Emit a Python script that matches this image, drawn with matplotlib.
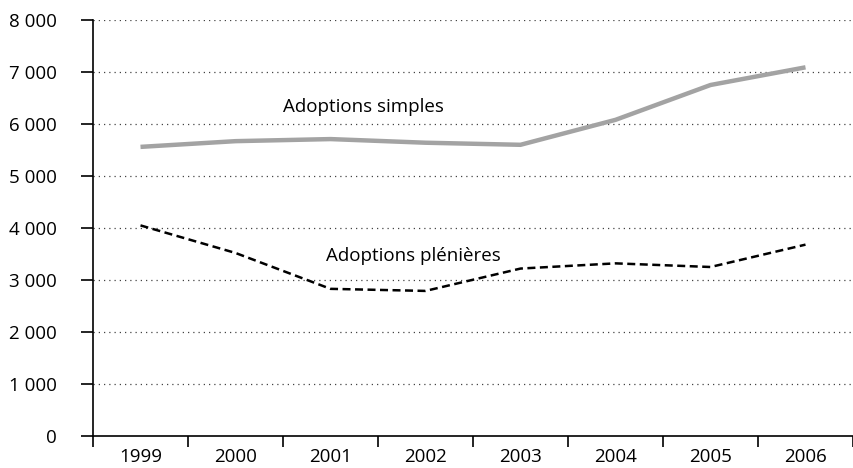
import numpy as np
import matplotlib.pyplot as plt

plt.rcParams['font.family'] = ['Open Sans', 'DejaVu Sans']

# données
annees = ['1999', '2000', '2001', '2002', '2003', '2004', '2005', '2006']
simples = [5560, 5670, 5710, 5640, 5600, 6080, 6750, 7090]
plenieres = [4050, 3520, 2830, 2790, 3220, 3320, 3250, 3680]
yticks = [0, 1000, 2000, 3000, 4000, 5000, 6000, 7000, 8000]

fig = plt.figure(figsize=(8.54, 4.68), dpi=100)
ax = fig.add_axes([93 / 854, 32 / 468, 760 / 854, 416 / 468])

x = np.arange(len(annees))
ax.plot(x, simples, color='#a3a3a3', lw=3.2, solid_capstyle='butt', zorder=3)
ax.plot(x, plenieres, color='black', lw=1.8, dashes=(3.2, 1.8), zorder=3)

ax.text(2.35, 6330, 'Adoptions simples', fontsize=13.5, ha='center', va='center')
ax.text(2.87, 3470, 'Adoptions plénières', fontsize=13.5, ha='center', va='center')

ax.set_xlim(-0.5, len(annees) - 0.5)
ax.set_ylim(0, 8000)

# grille en pointillés
for v in yticks[1:]:
    ax.axhline(v, color='#444444', lw=0.9, ls=(0, (1, 3.2)), zorder=1)

ax.set_yticks(yticks)
ax.set_yticklabels([f'{v:,}'.replace(',', ' ') for v in yticks], fontsize=13.5)
ax.set_xticks(x)
ax.set_xticklabels(annees, fontsize=13.5)
ax.set_xticks(np.arange(-0.5, len(annees)), minor=True)
ax.tick_params(axis='x', which='major', length=0, pad=9)
ax.tick_params(axis='x', which='minor', length=8, width=1.2, direction='out')
ax.tick_params(axis='y', length=9, width=1.2, direction='out', pad=17)

for s in ['top', 'right']:
    ax.spines[s].set_visible(False)
ax.spines['left'].set_linewidth(1.2)
ax.spines['bottom'].set_linewidth(1.2)

fig.savefig('out.png', dpi=100)
